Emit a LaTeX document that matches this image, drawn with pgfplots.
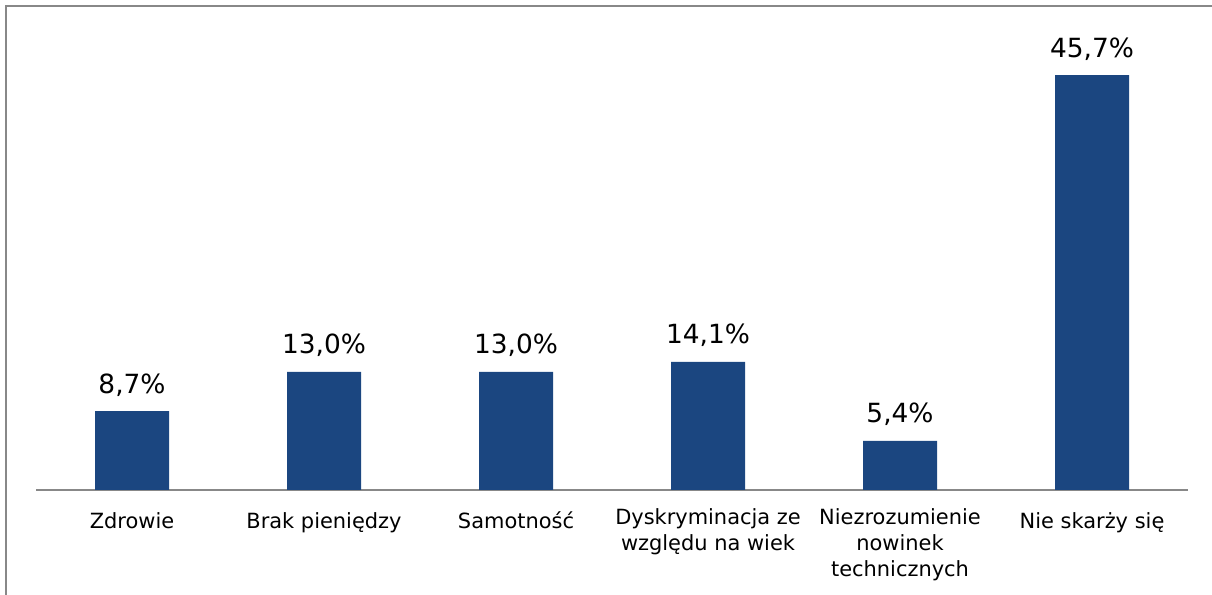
\documentclass[border=0pt]{standalone}
\usepackage{pgfplots}
\pgfplotsset{compat=1.18}
\usepackage{fontspec}
\setmainfont{DejaVu Sans}
\definecolor{barblue}{RGB}{27,70,128}
\definecolor{framegray}{RGB}{136,136,136}
\begin{document}
\begin{tikzpicture}
\useasboundingbox (0,0) rectangle (909pt,446.25pt);
\draw[framegray, line width=1.5pt] (4.5pt,-3pt) -- (4.5pt,441.75pt) -- (913pt,441.75pt);
\begin{axis}[
  at={(27pt,78.75pt)}, anchor=south west,
  scale only axis, width=864pt, height=340.5pt,
  xmin=-0.5, xmax=5.5, ymin=0, ymax=50,
  ybar, bar width=55.5pt,
  axis x line*=bottom, axis y line=none, ytick=\empty,
  x axis line style={framegray, line width=1.1pt},
  xtick=data, major tick length=0pt,
  xticklabels={Zdrowie, Brak pieniędzy, Samotność, {Dyskryminacja ze\\względu na wiek}, {Niezrozumienie\\nowinek\\technicznych}, Nie skarży się},
  xticklabel style={align=center, font=\fontsize{15.7}{19.2}\selectfont, anchor=north, inner sep=0pt, yshift=-14pt, execute at begin node={\rule{0pt}{15pt}}},
  nodes near coords, point meta=explicit symbolic,
  nodes near coords style={font=\fontsize{19.8}{22}\selectfont, anchor=base, inner sep=0pt, yshift=13.5pt, text=black},
  clip=false,
]
\addplot[fill=barblue, draw=none] table[meta=label] {
x y label
0 8.7 8,7\%
1 13.0 13,0\%
2 13.0 13,0\%
3 14.1 14,1\%
4 5.4 5,4\%
5 45.7 45,7\%
};
\end{axis}
\end{tikzpicture}
\end{document}
